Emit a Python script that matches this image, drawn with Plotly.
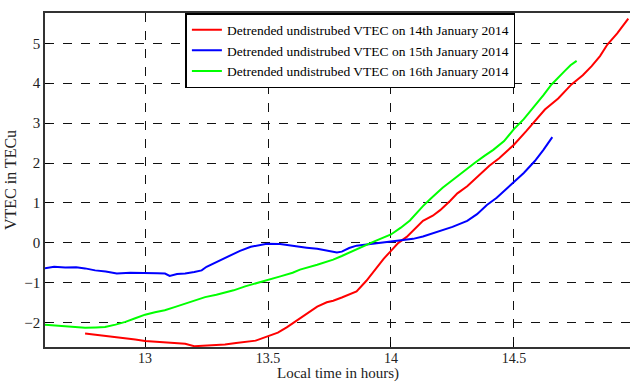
import plotly.graph_objects as go

# ---- data ----
blue_x = [12.593, 12.63, 12.675, 12.72, 12.756, 12.797, 12.84, 12.885, 12.94, 13.0, 13.05, 13.081, 13.10, 13.13,
          13.163, 13.20, 13.23, 13.25, 13.285, 13.32, 13.352, 13.386, 13.43, 13.46, 13.495, 13.549, 13.60, 13.657,
          13.70, 13.739, 13.78, 13.80, 13.83, 13.86, 13.90, 13.95, 14.0, 14.037, 14.09, 14.13, 14.17, 14.2, 14.25,
          14.31, 14.35, 14.39, 14.43, 14.46, 14.497, 14.54, 14.585, 14.62, 14.656]
blue_y = [-0.64, -0.60, -0.62, -0.61, -0.64, -0.69, -0.72, -0.77, -0.75, -0.75, -0.76, -0.77, -0.83, -0.78,
          -0.77, -0.73, -0.69, -0.60, -0.50, -0.40, -0.31, -0.20, -0.10, -0.06, -0.02, -0.03, -0.08, -0.12,
          -0.15, -0.20, -0.24, -0.22, -0.13, -0.07, -0.04, -0.02, 0.02, 0.06, 0.10, 0.16, 0.24, 0.29, 0.40,
          0.55, 0.72, 0.95, 1.13, 1.30, 1.52, 1.75, 2.05, 2.33, 2.65]

green_x = [12.593, 12.63, 12.675, 12.72, 12.756, 12.80, 12.837, 12.88, 12.92, 12.96, 13.0, 13.04, 13.08, 13.12,
           13.163, 13.20, 13.244, 13.29, 13.325, 13.36, 13.407, 13.45, 13.495, 13.55, 13.60, 13.63, 13.70, 13.765,
           13.80, 13.84, 13.86, 13.90, 13.93, 14.0, 14.04, 14.077, 14.10, 14.13, 14.16, 14.18, 14.21, 14.26, 14.30,
           14.34, 14.38, 14.416, 14.46, 14.50, 14.54, 14.585, 14.62, 14.653, 14.68, 14.707, 14.73, 14.755]
green_y = [-2.05, -2.07, -2.08, -2.11, -2.13, -2.12, -2.11, -2.05, -1.98, -1.89, -1.80, -1.74, -1.69, -1.61,
           -1.52, -1.44, -1.36, -1.30, -1.25, -1.19, -1.09, -1.02, -0.94, -0.84, -0.75, -0.67, -0.55, -0.42,
           -0.33, -0.22, -0.15, -0.04, 0.03, 0.21, 0.38, 0.56, 0.72, 0.92, 1.10, 1.21, 1.38, 1.62, 1.82,
           2.0, 2.18, 2.33, 2.55, 2.85, 3.10, 3.43, 3.70, 3.97, 4.15, 4.31, 4.45, 4.56]

red_x = [12.756, 12.80, 12.837, 12.88, 12.92, 12.96, 13.0, 13.04, 13.08, 13.12, 13.163, 13.20, 13.25, 13.30,
         13.325, 13.37, 13.407, 13.45, 13.495, 13.54, 13.576, 13.62, 13.657, 13.70, 13.739, 13.765, 13.80, 13.84,
         13.86, 13.90, 13.94, 13.97, 14.0, 14.03, 14.064, 14.10, 14.13, 14.17, 14.2, 14.24, 14.27, 14.31, 14.36,
         14.40, 14.44, 14.47, 14.50, 14.55, 14.59, 14.626, 14.68, 14.734, 14.78, 14.816, 14.85, 14.88, 14.92, 14.965]
red_y = [-2.27, -2.30, -2.32, -2.36, -2.38, -2.42, -2.46, -2.48, -2.49, -2.51, -2.53, -2.59, -2.57, -2.56,
         -2.55, -2.51, -2.49, -2.45, -2.35, -2.25, -2.12, -1.93, -1.77, -1.60, -1.49, -1.45, -1.37, -1.28,
         -1.22, -0.95, -0.62, -0.40, -0.20, 0.0, 0.15, 0.38, 0.55, 0.68, 0.82, 1.05, 1.24, 1.42, 1.70,
         1.93, 2.12, 2.30, 2.46, 2.80, 3.07, 3.34, 3.62, 3.97, 4.20, 4.43, 4.68, 4.97, 5.25, 5.62]

names = ["Detrended undistrubed VTEC on 14th January 2014",
         "Detrended undistrubed VTEC on 15th January 2014",
         "Detrended undistrubed VTEC on 16th January 2014"]

x_ticks = [13, 13.5, 14, 14.5]
x_tick_labels = ["13", "13.5", "14", "14.5"]
y_ticks = [-2, -1, 0, 1, 2, 3, 4, 5]
x_title = "Local time in hours)"
y_title = "VTEC in TECu"

FONT = "Liberation Serif"

fig = go.Figure()
for xs, ys, nm, col in [(red_x, red_y, names[0], "#ff0000"),
                        (blue_x, blue_y, names[1], "#0000ff"),
                        (green_x, green_y, names[2], "#00ff00")]:
    fig.add_trace(go.Scatter(x=xs, y=ys, mode="lines", name=nm,
                             line=dict(color=col, width=2)))

fig.update_layout(
    width=630, height=383,
    margin=dict(l=45, r=0, t=13, b=36),
    paper_bgcolor="white", plot_bgcolor="white",
    font=dict(family=FONT, size=14, color="#222222"),
    showlegend=True,
    legend=dict(x=0.24, y=1, xanchor="left", yanchor="top",
                bgcolor="white", bordercolor="black", borderwidth=1.5,
                font=dict(family=FONT, size=13.5, color="black"),
                tracegroupgap=0, itemwidth=30),
    annotations=[dict(text=x_title, xref="paper", yref="paper", x=0.5, y=-0.079,
                      xanchor="center", yanchor="middle", showarrow=False,
                      font=dict(family=FONT, size=15, color="#222222"))],
)
fig.update_xaxes(range=[12.593, 14.972], tickvals=x_ticks, ticktext=x_tick_labels,
                 showgrid=True, gridcolor="#111111", griddash="dash", gridwidth=1.4,
                 showline=True, linecolor="#333333", linewidth=1.5, mirror=True,
                 ticks="inside", ticklen=5, tickcolor="black", zeroline=False,
                 ticklabelstandoff=-3,
                 tickfont=dict(family=FONT, size=14))
fig.update_yaxes(range=[-2.61, 5.76], tickvals=y_ticks,
                 showgrid=True, gridcolor="#111111", griddash="dash", gridwidth=1.4,
                 showline=True, linecolor="#333333", linewidth=1.5, mirror=False,
                 ticks="inside", ticklen=5, tickcolor="black", zeroline=False,
                 tickfont=dict(family=FONT, size=15),
                 title=dict(text=y_title, standoff=4,
                            font=dict(family=FONT, size=16)))

fig.write_html("out.html")
